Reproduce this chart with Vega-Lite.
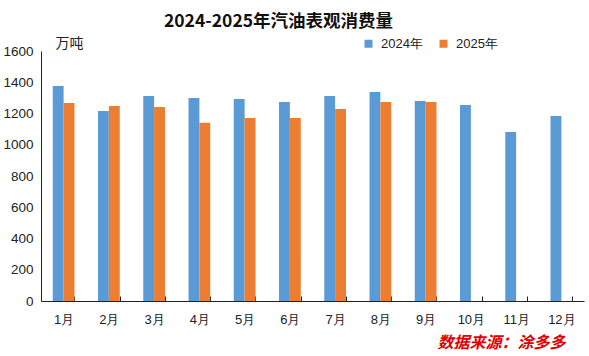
{
  "$schema": "https://vega.github.io/schema/vega-lite/v6.json",
  "autosize": {"type": "none"},
  "width": 543,
  "height": 250,
  "padding": {"left": 41, "top": 51, "right": 5, "bottom": 55},
  "background": "white",
  "title": {
    "text": "2024-2025年汽油表观消费量",
    "font": "Noto Sans CJK SC",
    "fontSize": 17.5,
    "fontWeight": "bold",
    "color": "#111111",
    "anchor": "middle",
    "dx": -34,
    "offset": 6
  },
  "data": {
    "values": [
      {"month": "1月", "year": "2024年", "value": 1376},
      {"month": "1月", "year": "2025年", "value": 1267},
      {"month": "2月", "year": "2024年", "value": 1216},
      {"month": "2月", "year": "2025年", "value": 1248},
      {"month": "3月", "year": "2024年", "value": 1312},
      {"month": "3月", "year": "2025年", "value": 1242},
      {"month": "4月", "year": "2024年", "value": 1299},
      {"month": "4月", "year": "2025年", "value": 1141},
      {"month": "5月", "year": "2024年", "value": 1293},
      {"month": "5月", "year": "2025年", "value": 1171},
      {"month": "6月", "year": "2024年", "value": 1274},
      {"month": "6月", "year": "2025年", "value": 1171},
      {"month": "7月", "year": "2024年", "value": 1312},
      {"month": "7月", "year": "2025年", "value": 1229},
      {"month": "8月", "year": "2024年", "value": 1338},
      {"month": "8月", "year": "2025年", "value": 1274},
      {"month": "9月", "year": "2024年", "value": 1280},
      {"month": "9月", "year": "2025年", "value": 1274},
      {"month": "10月", "year": "2024年", "value": 1254},
      {"month": "11月", "year": "2024年", "value": 1082},
      {"month": "12月", "year": "2024年", "value": 1184}
    ]
  },
  "mark": {"type": "bar"},
  "encoding": {
    "x": {
      "field": "month",
      "type": "nominal",
      "sort": ["1月","2月","3月","4月","5月","6月","7月","8月","9月","10月","11月","12月"],
      "scale": {"paddingInner": 0.52, "paddingOuter": 0.26},
      "axis": {
        "title": "数据来源：涂多多",
        "titleColor": "#E00000",
        "titleFont": "Noto Sans CJK SC",
        "titleFontSize": 16,
        "titleFontWeight": "bold",
        "titleFontStyle": "italic",
        "titleAnchor": "start",
        "titleAlign": "right",
        "titleBaseline": "middle",
        "titleX": 524,
        "titleY": 41,
        "labelAngle": 0,
        "labelFont": "Liberation Sans",
        "labelFontSize": 13,
        "labelColor": "#222222",
        "labelPadding": 17,
        "domainColor": "#222222",
        "tickColor": "#222222",
        "tickBand": "extent",
        "tickSize": -5,
        "grid": false
      }
    },
    "xOffset": {"field": "year", "type": "nominal", "scale": {"domain": ["2024年", "2025年"]}},
    "y": {
      "field": "value",
      "type": "quantitative",
      "scale": {"domain": [0, 1600]},
      "axis": {
        "title": "万吨",
        "titleAngle": 0,
        "titleFont": "Noto Sans CJK SC",
        "titleFontSize": 14,
        "titleFontWeight": "normal",
        "titleColor": "#222222",
        "titleAlign": "left",
        "titleBaseline": "middle",
        "titleX": 14,
        "titleY": -8,
        "values": [0,200,400,600,800,1000,1200,1400,1600],
        "format": "d",
        "labelFont": "Liberation Sans",
        "labelFontSize": 13.5,
        "labelColor": "#222222",
        "labelPadding": 8,
        "ticks": false,
        "domainColor": "#222222",
        "grid": false
      }
    },
    "color": {
      "field": "year",
      "type": "nominal",
      "scale": {"domain": ["2024年", "2025年"], "range": ["#5B9BD5", "#ED7D31"]},
      "legend": {
        "title": null,
        "orient": "none",
        "legendX": 321,
        "legendY": -14,
        "direction": "horizontal",
        "symbolType": "square",
        "symbolSize": 64,
        "symbolStrokeWidth": 0,
        "labelFont": "Liberation Sans",
        "labelFontSize": 13,
        "labelColor": "#222222",
        "labelOffset": 6,
        "columnPadding": 14
      }
    }
  },
  "config": {"view": {"stroke": null}}
}
